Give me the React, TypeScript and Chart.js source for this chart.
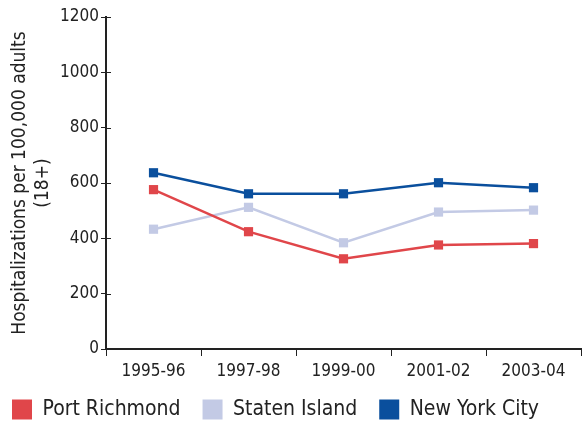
import React, { useEffect, useRef } from "react";
import { Chart, registerables } from "chart.js";

Chart.register(...registerables);

const categories = ["1995-96", "1997-98", "1999-00", "2001-02", "2003-04"];
const portRichmond = [576, 424, 326, 376, 381];
const statenIsland = [433, 512, 384, 495, 502];
const newYorkCity = [637, 561, 561, 601, 583];
const yTitle = ["Hospitalizations per 100,000 adults", "(18+)"];

const FONT = "'DejaVu Sans Condensed', 'DejaVu Sans', sans-serif";
const AXIS = "#222222";

const innerTicks = {
  id: "innerTicks",
  afterDatasetsDraw(chart: any) {
    const y = chart.scales.y;
    const ctx = chart.ctx;
    ctx.save();
    ctx.strokeStyle = AXIS;
    ctx.lineWidth = 1;
    for (const t of y.ticks) {
      const py = Math.round(y.getPixelForValue(t.value)) + 0.5;
      ctx.beginPath();
      ctx.moveTo(y.right, py);
      ctx.lineTo(y.right + 5, py);
      ctx.stroke();
    }
    ctx.restore();
  },
};

export default function App() {
  const ref = useRef<HTMLCanvasElement | null>(null);
  useEffect(() => {
    if (!ref.current) return;
    const mk = (label: string, data: number[], color: string) => ({
      label,
      data,
      borderColor: color,
      backgroundColor: color,
      borderWidth: 2.5,
      pointStyle: "rect" as const,
      pointRadius: 6.5,
      pointBackgroundColor: color,
      pointBorderWidth: 0,
      tension: 0,
      clip: false as const,
    });
    const chart = new Chart(ref.current, {
      type: "line",
      data: {
        labels: categories,
        datasets: [
          mk("Port Richmond", portRichmond, "#E0464A"),
          mk("Staten Island", statenIsland, "#C3CAE5"),
          mk("New York City", newYorkCity, "#0A4F9D"),
        ],
      },
      plugins: [innerTicks],
      options: {
        animation: false,
        responsive: false,
        layout: { autoPadding: false, padding: { left: -10, right: 2, top: 17, bottom: -9 } },
        font: { family: FONT },
        plugins: {
          tooltip: { enabled: false },
          legend: {
            position: "bottom",
            align: "start",
            labels: {
              font: { family: FONT, size: 21 },
              color: "#222222",
              boxWidth: 20,
              boxHeight: 20,
              padding: 22,
              generateLabels: (c: any) =>
                (Chart.defaults.plugins.legend.labels as any)
                  .generateLabels(c)
                  .map((l: any) => ({ ...l, lineWidth: 0 })),
            },
          },
        },
        scales: {
          x: {
            offset: true,
            afterFit: (s: any) => {
              s.height = 28;
            },
            grid: {
              display: true,
              offset: true,
              drawOnChartArea: false,
              drawTicks: true,
              tickLength: 7,
              color: AXIS,
            },
            border: { display: true, color: AXIS, width: 2 },
            ticks: {
              font: { family: FONT, size: 17, lineHeight: 1 },
              color: "#222222",
              padding: 7,
              maxRotation: 0,
            },
          },
          y: {
            min: 0,
            max: 1200,
            grid: {
              display: true,
              drawOnChartArea: false,
              drawTicks: true,
              tickLength: 5,
              color: AXIS,
            },
            border: { display: true, color: AXIS, width: 2 },
            ticks: {
              stepSize: 200,
              font: { family: FONT, size: 17 },
              color: "#222222",
              padding: 2,
              callback: (v: any) => String(v),
            },
            title: {
              display: true,
              text: yTitle,
              font: { family: FONT, size: 19, lineHeight: 1.2 },
              color: "#222222",
              padding: { top: 18.6, bottom: 3.9 },
            },
          },
        },
      },
    });
    return () => chart.destroy();
  }, []);
  return (
    <div style={{ position: "absolute", left: 0, top: 0, width: 583, height: 421 }}>
      <canvas ref={ref} width={583} height={421} />
    </div>
  );
}
